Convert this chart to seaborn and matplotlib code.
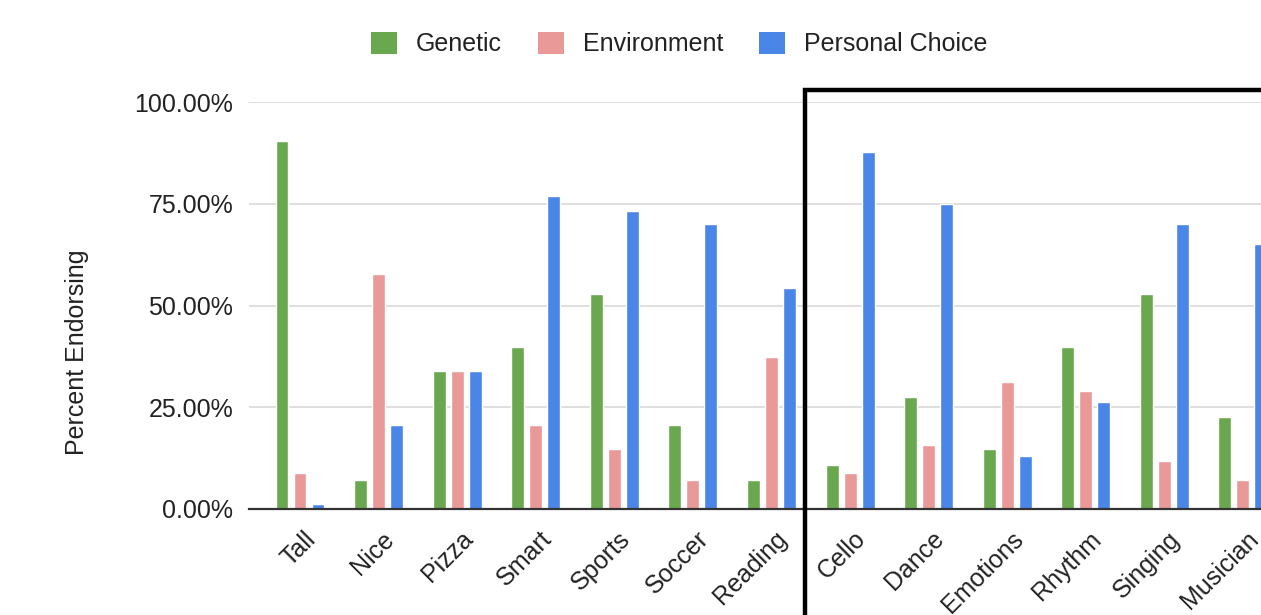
import matplotlib
matplotlib.use("Agg")
import matplotlib.pyplot as plt
import matplotlib.ticker as mticker
import matplotlib.transforms as mtransforms
from matplotlib.patches import Patch, Rectangle
import pandas as pd
import seaborn as sns

# --- data (percent endorsing) ---
items = ["Tall", "Nice", "Pizza", "Smart", "Sports", "Soccer", "Reading",
         "Cello", "Dance", "Emotions", "Rhythm", "Singing", "Musician"]
genetic = [90.5, 7.1, 34.0, 39.9, 52.9, 20.6, 7.1,
           10.8, 27.5, 14.7, 39.9, 52.9, 22.5]
environment = [8.8, 57.7, 34.0, 20.6, 14.7, 7.1, 37.3,
               8.8, 15.7, 31.3, 29.1, 11.9, 7.1]
personal_choice = [1.2, 20.6, 34.0, 77.0, 73.3, 70.1, 54.4,
                   87.8, 74.9, 13.0, 26.4, 70.1, 65.2]

sources = ["Genetic", "Environment", "Personal Choice"]
colors = ["#6aa84f", "#ea9999", "#4a86e8"]
yticks = [0, 25, 50, 75, 100]

rows = []
for src, vals in zip(sources, [genetic, environment, personal_choice]):
    for it, v in zip(items, vals):
        rows.append({"item": it, "source": src, "pct": v})
df = pd.DataFrame(rows)

sns.set_style("white")
plt.rcParams["font.family"] = ["Liberation Sans", "DejaVu Sans"]
plt.rcParams["text.color"] = "#222222"

W, H, DPI = 1261, 615, 100
fig = plt.figure(figsize=(W / DPI, H / DPI), dpi=DPI)

y0, y1 = 509, 102
ax = fig.add_axes([249 / W, 1 - y0 / H, (W - 249) / W, (y0 - y1) / H])

sns.barplot(data=df, x="item", y="pct", hue="source", order=items,
            hue_order=sources, palette=colors, width=0.687, gap=0.28,
            errorbar=None, legend=False, ax=ax, saturation=1)

# the chart continues past the right edge (crop)
ax.set_xlim(-0.649, 12.23)
ax.set_ylim(0, 100)
ax.set_yticks(yticks)
ax.yaxis.set_major_formatter(mticker.FuncFormatter(lambda v, _: f"{v:.2f}%"))
ax.yaxis.grid(True, color="#d9d9d9", linewidth=1.2)
ax.set_axisbelow(True)
ax.set_xlabel("")
ax.set_ylabel("")
for side in ("top", "right", "left"):
    ax.spines[side].set_visible(False)
ax.spines["bottom"].set_color("#333333")
ax.spines["bottom"].set_linewidth(1.6)
ax.tick_params(axis="both", length=0, labelsize=18, colors="#222222")
ax.tick_params(axis="y", pad=11.5)
ax.tick_params(axis="x", pad=19)

label_shift = mtransforms.ScaledTranslation(12 / DPI, 0, fig.dpi_scale_trans)
for lab in ax.get_xticklabels():
    lab.set_rotation(45)
    lab.set_ha("right")
    lab.set_va("center")
    lab.set_rotation_mode("anchor")
    lab.set_transform(lab.get_transform() + label_shift)

fig.text(77 / W, 1 - 352 / H, "Percent Endorsing", rotation=90,
         ha="center", va="center", fontsize=18, color="#222222")

handles = [Patch(facecolor=c, edgecolor="none", label=s) for s, c in zip(sources, colors)]
fig.legend(handles=handles, loc="center", bbox_to_anchor=(679 / W, 1 - 44 / H),
           ncol=3, frameon=False, fontsize=18, handlelength=1.04, handleheight=1.0,
           handletextpad=0.76, columnspacing=1.44)

# black highlight box around the second group of items
fig.add_artist(Rectangle((805.5 / W, -0.1), 1.0, 1.1 - 90 / H, transform=fig.transFigure,
                         fill=False, edgecolor="black", linewidth=3.2, clip_on=False,
                         zorder=10))

fig.savefig("out.png", dpi=DPI)
